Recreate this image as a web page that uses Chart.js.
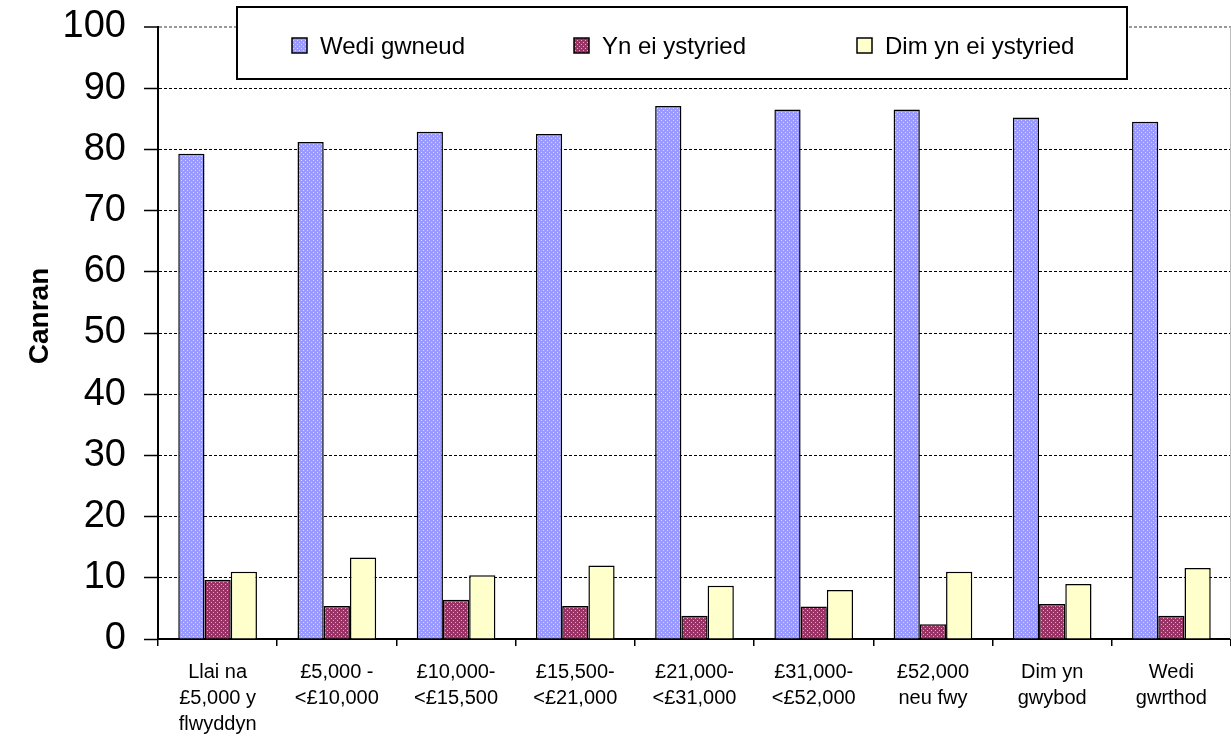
<!DOCTYPE html>
<html lang="cy">
<head>
    <meta charset="UTF-8">
    <title>Canran</title>
    <script src="https://cdn.jsdelivr.net/npm/chart.js"></script>
    <style>
        html, body { margin: 0; padding: 0; background: #fff; }
        #wrap { width: 1231px; height: 740px; }
    </style>
</head>
<body>
<div id="wrap"><canvas id="chart" width="1231" height="740"></canvas></div>
<script>
    // Data
    const categories = [
        ['Llai na', '£5,000 y', 'flwyddyn'],
        ['£5,000 -', '<£10,000'],
        ['£10,000-', '<£15,500'],
        ['£15,500-', '<£21,000'],
        ['£21,000-', '<£31,000'],
        ['£31,000-', '<£52,000'],
        ['£52,000', 'neu fwy'],
        ['Dim yn', 'gwybod'],
        ['Wedi', 'gwrthod']
    ];
    const seriesNames = ['Wedi gwneud', 'Yn ei ystyried', 'Dim yn ei ystyried'];
    const wediGwneud = [79.3, 81.2, 82.9, 82.5, 87.1, 86.5, 86.5, 85.2, 84.5];
    const ynEiYstyried = [9.7, 5.4, 6.4, 5.4, 3.8, 5.3, 2.4, 5.7, 3.8];
    const dimYnEiYstyried = [11.0, 13.3, 10.4, 12.0, 8.7, 8.0, 11.0, 9.0, 11.6];
    const yTicks = [0, 10, 20, 30, 40, 50, 60, 70, 80, 90, 100];
    const yTitle = 'Canran';

    const FONT = "Arial, 'Liberation Sans', sans-serif";
    const ctx = document.getElementById('chart').getContext('2d');

    // small dotted fill like the original office chart
    function dotted(base, dot) {
        const c = document.createElement('canvas');
        c.width = 4; c.height = 4;
        const g = c.getContext('2d');
        g.fillStyle = base;
        g.fillRect(0, 0, 4, 4);
        g.fillStyle = dot;
        g.fillRect(1, 0, 1, 1);
        g.fillRect(3, 2, 1, 1);
        return ctx.createPattern(c, 'repeat');
    }
    const fills = [
        dotted('#9999ff', '#d6d6ff'),
        dotted('#993366', '#e0a8c4'),
        dotted('#ffffcc', '#fffff0')
    ];

    // boxed legend over the top of the plot, y title and right frame line
    const boxLegend = {
        id: 'boxLegend',
        beforeDatasetsDraw(chart) {
            const a = chart.chartArea;
            const c = chart.ctx;
            c.save();
            c.strokeStyle = '#bbbbbb';
            c.lineWidth = 1;
            c.beginPath();
            c.moveTo(a.right - 0.5, a.top);
            c.lineTo(a.right - 0.5, a.bottom);
            c.stroke();
            c.restore();
        },
        afterDraw(chart) {
            const c = chart.ctx;
            c.save();
            // axis title, sits a bit above the plot middle like the original
            c.translate(40, 316);
            c.rotate(-Math.PI / 2);
            c.font = 'bold 28px ' + FONT;
            c.fillStyle = '#000';
            c.textAlign = 'center';
            c.textBaseline = 'middle';
            c.fillText(yTitle, 0, 0);
            c.restore();

            c.save();
            c.fillStyle = '#ffffff';
            c.fillRect(237, 7, 890, 72);
            c.strokeStyle = '#000';
            c.lineWidth = 2;
            c.strokeRect(237, 7, 890, 72);
            const xs = [292, 574, 857];
            c.font = '24px ' + FONT;
            c.textBaseline = 'middle';
            chart.data.datasets.forEach((ds, i) => {
                c.fillStyle = ds.backgroundColor;
                c.fillRect(xs[i], 38, 15, 15);
                c.strokeStyle = '#000';
                c.lineWidth = 1.5;
                c.strokeRect(xs[i], 38, 15, 15);
                c.fillStyle = '#000';
                c.fillText(ds.label, xs[i] + 28, 47);
            });
            c.restore();
        }
    };

    new Chart(ctx, {
        type: 'bar',
        data: {
            labels: categories,
            datasets: [wediGwneud, ynEiYstyried, dimYnEiYstyried].map((vals, i) => ({
                label: seriesNames[i],
                data: vals,
                backgroundColor: fills[i],
                borderColor: '#000',
                borderWidth: 1.5,
                categoryPercentage: 0.66,
                barPercentage: 1.0
            }))
        },
        options: {
            responsive: false,
            animation: false,
            layout: { padding: { top: 27, right: 0, left: 0, bottom: 0 } },
            plugins: {
                legend: { display: false },
                tooltip: { enabled: false }
            },
            scales: {
                x: {
                    afterFit(scale) { scale.height = 101; },
                    border: { color: '#000', width: 2 },
                    grid: {
                        offset: true,
                        drawOnChartArea: false,
                        color: '#000',
                        tickLength: 7,
                        lineWidth: 1.5
                    },
                    ticks: {
                        color: '#000',
                        padding: 13,
                        maxRotation: 0,
                        autoSkip: false,
                        font: { family: FONT, size: 20, lineHeight: 1.3 }
                    }
                },
                y: {
                    min: 0,
                    max: 100,
                    afterFit(scale) {
                        scale.width = 158;
                        scale.paddingTop = 0;
                        scale.paddingBottom = 0;
                    },
                    afterBuildTicks(scale) { scale.ticks = yTicks.map(v => ({ value: v })); },
                    border: { color: '#000', width: 2, dash: [3, 2] },
                    grid: {
                        color: c2 => c2.tick && c2.tick.value === 100 ? '#999999' : '#000',
                        lineWidth: c2 => c2.tick && c2.tick.value === 100 ? 2 : 1,
                        tickLength: 14,
                        tickColor: '#000',
                        tickWidth: 1.5,
                        tickBorderDash: []
                    },
                    ticks: {
                        color: '#000',
                        padding: 18,
                        font: { family: FONT, size: 38 }
                    }
                }
            }
        },
        plugins: [boxLegend]
    });
</script>
</body>
</html>
